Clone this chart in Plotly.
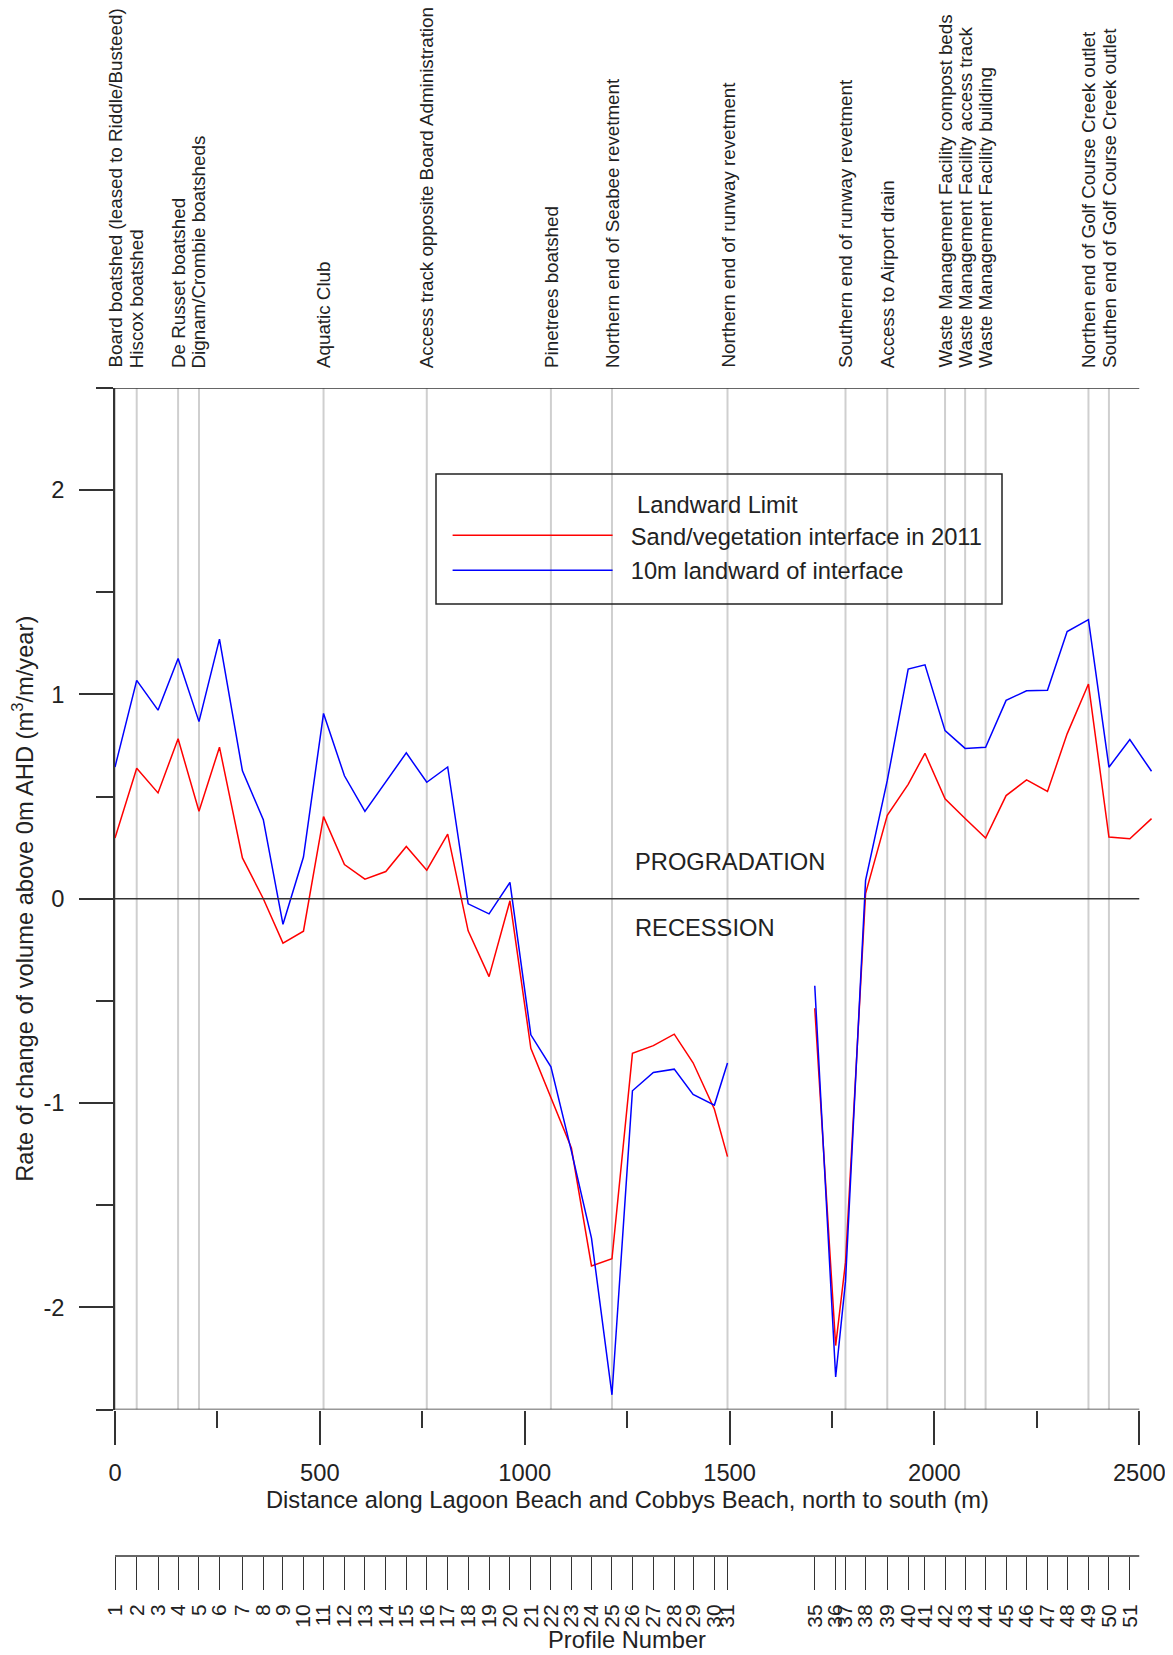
import plotly.graph_objects as go

# ---------------- data ----------------
profile_numbers = list(range(1, 32)) + list(range(35, 52))
profile_dist = [0, 53, 105, 154, 205, 255, 311, 362, 410, 460,
                509, 560, 610, 661, 711, 761, 812, 862, 913, 964,
                1015, 1064, 1114, 1163, 1213, 1263, 1314, 1365, 1411, 1463,
                1495,
                1708, 1759, 1783, 1832, 1885, 1936, 1977, 2026, 2075,
                2125, 2175, 2225, 2276, 2324, 2376, 2426, 2477]

# Rate of change (m3/m/year) at each profile
sand_veg_2011 = [0.297, 0.639, 0.518, 0.783, 0.428, 0.742, 0.200, 0.000, -0.217, -0.159,
                 0.402, 0.167, 0.096, 0.133, 0.256, 0.140, 0.316, -0.157, -0.381, -0.010,
                 -0.732, -0.973, -1.220, -1.797, -1.762, -0.757, -0.719, -0.663, -0.803, -1.030,
                 -1.262,
                 -0.536, -2.187, -1.780, 0.025, 0.408, 0.560, 0.712, 0.489, 0.393,
                 0.297, 0.505, 0.582, 0.525, 0.807, 1.051, 0.302, 0.294]
landward_10m = [0.645, 1.069, 0.923, 1.176, 0.867, 1.271, 0.626, 0.387, -0.125, 0.204,
                0.907, 0.602, 0.428, 0.570, 0.714, 0.570, 0.645, -0.025, -0.074, 0.080,
                -0.666, -0.823, -1.235, -1.661, -2.428, -0.940, -0.850, -0.834, -0.958, -1.010,
                -0.804,
                -0.426, -2.341, -1.873, 0.090, 0.579, 1.124, 1.145, 0.823, 0.736,
                0.741, 0.971, 1.018, 1.021, 1.308, 1.366, 0.644, 0.779]
# final surveyed point beyond the last profile marker
end_dist = 2530
end_sand_veg = 0.392
end_landward = 0.624

feature_labels = [
    "Board boatshed (leased to Riddle/Busteed)",
    "Hiscox boatshed",
    "De Russet boatshed",
    "Dignam/Crombie boatsheds",
    "Aquatic Club",
    "Access track opposite Board Administration",
    "Pinetrees boatshed",
    "Northern end of Seabee revetment",
    "Northern end of runway revetment",
    "Southern end of runway revetment",
    "Access to Airport drain",
    "Waste Management Facility compost beds",
    "Waste Management Facility access track",
    "Waste Management Facility building",
    "Northen end of Golf Course Creek outlet",
    "Southen end of Golf Course Creek outlet",
]
feature_dist = [0, 53, 154, 205, 509, 761, 1064, 1213, 1495, 1783,
                1885, 2026, 2075, 2125, 2376, 2426]

x_ticks = [0, 500, 1000, 1500, 2000, 2500]
x_minor = [250, 750, 1250, 1750, 2250]
y_ticks = [-2, -1, 0, 1, 2]
y_minor = [-2.5, -1.5, -0.5, 0.5, 1.5, 2.5]
x_max = 2500
y_lim = 2.5


# ---------------- helpers ----------------
def with_gaps(xs, ys, nums):
    ox, oy = [], []
    for i, (x, y) in enumerate(zip(xs, ys)):
        if i > 0 and nums[i] - nums[i - 1] > 1:
            ox.append(None)
            oy.append(None)
        ox.append(x)
        oy.append(y)
    return ox, oy


FONT = "Liberation Sans, Arial, sans-serif"
AX = "#333333"
TXT = "#222222"
FS = 23.7
NB = "\u00a0\u00a0"

rx, ry = with_gaps(profile_dist + [end_dist], sand_veg_2011 + [end_sand_veg],
                   profile_numbers + [profile_numbers[-1] + 1])
bx, by = with_gaps(profile_dist + [end_dist], landward_10m + [end_landward],
                   profile_numbers + [profile_numbers[-1] + 1])

fig = go.Figure()
fig.add_trace(go.Scatter(x=rx, y=ry, mode="lines", name=NB + "Sand/vegetation interface in 2011",
                         line=dict(color="#ff0000", width=1.5), connectgaps=False,
                         legendgroup="a"))
fig.add_trace(go.Scatter(x=bx, y=by, mode="lines", name=NB + "10m landward of interface",
                         line=dict(color="#0000ff", width=1.5), connectgaps=False,
                         legendgroup="b"))
# carrier for the profile-number axis
fig.add_trace(go.Scatter(x=profile_dist, y=[0.5] * len(profile_dist), xaxis="x2", yaxis="y2",
                         mode="markers", marker=dict(opacity=0), showlegend=False,
                         hoverinfo="skip"))

# page has an 8px body margin; figure is laid out in its own coordinates
W, H = 1165, 1647
ml, mr, mt, mb = 107, 20, 380, 99
plot_w = W - ml - mr
plot_h = H - mt - mb
px_per_m = 0.4097
x_range_max = plot_w / px_per_m
main_bottom = 1401.5          # figure px of y = -2.5
profile_axis = H - mb         # figure px of profile axis line
dom_bottom = (profile_axis - main_bottom) / plot_h


def px_to_paper_x(px):
    return (px - ml) / plot_w


def px_to_paper_y(py):
    return 1 - (py - mt) / plot_h


shapes = []
for fx in feature_dist:
    shapes.append(dict(type="line", xref="x", yref="y", x0=fx, x1=fx, y0=-y_lim, y1=y_lim,
                       line=dict(color="#cfcfcf", width=2), layer="below"))
# frame / axis lines
for yy in (y_lim, -y_lim, 0):
    shapes.append(dict(type="line", xref="x", yref="y", x0=0, x1=x_max, y0=yy, y1=yy,
                       line=dict(color=AX, width=1.5)))
shapes.append(dict(type="line", xref="x2", yref="y2 domain", x0=0, x1=x_max, y0=0, y1=0,
                   line=dict(color=AX, width=1.5)))
# legend frame
shapes.append(dict(type="rect", xref="paper", yref="paper",
                   x0=px_to_paper_x(428), x1=px_to_paper_x(994),
                   y0=px_to_paper_y(596), y1=px_to_paper_y(466),
                   line=dict(color="#222222", width=1.5), fillcolor="rgba(0,0,0,0)"))

annotations = []
for lab, fx in zip(feature_labels, feature_dist):
    annotations.append(dict(x=fx, xref="x", y=1, yref="y domain", text=lab, textangle=-90,
                            xanchor="center", yanchor="bottom", yshift=18, showarrow=False,
                            font=dict(family=FONT, size=18.8, color=TXT)))
annotations.append(dict(x=1265, xref="x", y=0.18, yref="y", text="PROGRADATION",
                        xanchor="left", yanchor="middle", showarrow=False,
                        font=dict(family=FONT, size=FS, color=TXT)))
annotations.append(dict(x=1265, xref="x", y=-0.144, yref="y", text="RECESSION",
                        xanchor="left", yanchor="middle", showarrow=False,
                        font=dict(family=FONT, size=FS, color=TXT)))
# axis titles centred on the 0-2500 m axis span
annotations.append(dict(x=x_max / 2, xref="x", y=px_to_paper_y(1492), yref="paper",
                        text="Distance along Lagoon Beach and Cobbys Beach, north to south (m)",
                        xanchor="center", yanchor="middle", showarrow=False,
                        font=dict(family=FONT, size=FS, color=TXT)))
annotations.append(dict(x=x_max / 2, xref="x", y=px_to_paper_y(1632), yref="paper",
                        text="Profile Number",
                        xanchor="center", yanchor="middle", showarrow=False,
                        font=dict(family=FONT, size=FS, color=TXT)))

fig.update_layout(
    width=W, height=H,
    margin=dict(l=ml, r=mr, t=mt, b=mb, pad=0, autoexpand=False),
    paper_bgcolor="white", plot_bgcolor="white",
    font=dict(family=FONT, size=FS, color=TXT),
    showlegend=True,
    legend=dict(x=px_to_paper_x(439.6), y=px_to_paper_y(474.6),
                xanchor="left", yanchor="top",
                bgcolor="rgba(0,0,0,0)", borderwidth=0,
                font=dict(family=FONT, size=FS, color=TXT),
                itemwidth=160, tracegroupgap=1,
                title=dict(text="Landward Limit", side="top center",
                           font=dict(family=FONT, size=FS, color=TXT))),
    xaxis=dict(domain=[0, 1], range=[0, x_range_max], anchor="y", automargin=False,
               showgrid=False, zeroline=False, showline=False,
               tickmode="array", tickvals=x_ticks, ticktext=[str(v) for v in x_ticks],
               ticks="outside", ticklen=34, tickwidth=1.5, tickcolor=AX,
               ticklabelstandoff=8,
               minor=dict(tickmode="array", tickvals=x_minor, ticks="outside", ticklen=17,
                          tickwidth=1.5, tickcolor=AX, showgrid=False),
               tickfont=dict(family=FONT, size=FS, color=TXT)),
    yaxis=dict(domain=[dom_bottom, 1], range=[-y_lim, y_lim], anchor="x", automargin=False,
               showgrid=False, zeroline=False, showline=True, linecolor=AX, linewidth=1.5,
               tickmode="array", tickvals=y_ticks, ticktext=[str(v) for v in y_ticks],
               ticks="outside", ticklen=34, tickwidth=1.5, tickcolor=AX,
               ticklabelstandoff=10,
               minor=dict(tickmode="array", tickvals=y_minor, ticks="outside", ticklen=17,
                          tickwidth=1.5, tickcolor=AX, showgrid=False),
               tickfont=dict(family=FONT, size=FS, color=TXT),
               title=dict(text="Rate of change of volume above 0m AHD (m<sup>3</sup>/m/year)",
                          font=dict(family=FONT, size=FS, color=TXT), standoff=13)),
    xaxis2=dict(domain=[0, 1], range=[0, x_range_max], anchor="y2", automargin=False,
                showgrid=False, zeroline=False, showline=False,
                tickmode="array", tickvals=profile_dist, ticktext=[str(n) for n in profile_numbers],
                tickangle=-90, ticks="outside", ticklen=33, tickwidth=1.2, tickcolor=AX,
                ticklabelstandoff=6,
                tickfont=dict(family=FONT, size=21, color=TXT)),
    yaxis2=dict(domain=[0, 0.001], range=[0, 1], anchor="x2", visible=False, automargin=False),
    shapes=shapes,
    annotations=annotations,
)

fig.write_html("out.html", config={"displayModeBar": False})
